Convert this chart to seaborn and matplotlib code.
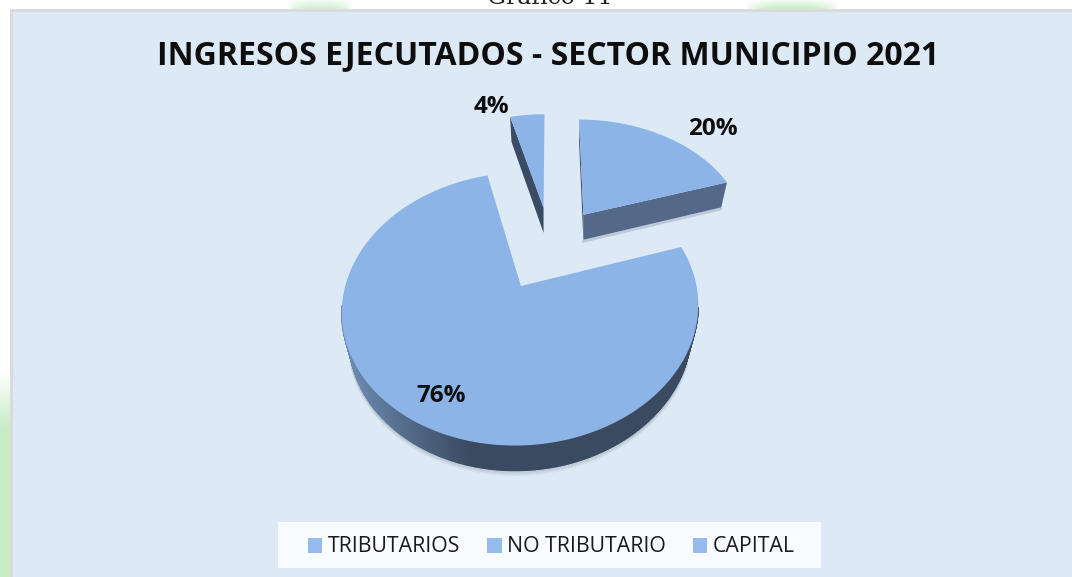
import numpy as np
import seaborn as sns
import matplotlib.pyplot as plt
from matplotlib.colors import to_rgb
from matplotlib.patches import Patch, Rectangle

categorias = ['TRIBUTARIOS', 'NO TRIBUTARIO', 'CAPITAL']
# orden de las porciones en el pastel, desde las 12 en sentido horario
etiquetas_pastel = ['20%', '76%', '4%']
valores_pastel = [20, 76, 4]
titulo = 'INGRESOS EJECUTADOS - SECTOR MUNICIPIO 2021'
titulo_grafico = 'Gráfico 11'

AZUL = '#8cb4e6'
FONDO = '#dde9f5'
VERDE = '#c6ecc5'

# perspectiva del pastel 3D (en pixeles)
CX, CY = 550.5, 247.3
A, B, K = 167, 120, 0.16
EXPLOSION = 0.35
PROF = 25
ESCALA_BASE = 0.96


def proyectar(x, y):
    den = 1 + K * y
    return CX + A * x / den, CY - B * y / den


def mezcla(t, c1, c2):
    c1, c2 = np.array(to_rgb(c1)), np.array(to_rgb(c2))
    return tuple(c1 + (c2 - c1) * t)


def mancha(ax, x0, x1, y0, y1, alfa):
    # mancha verde de la hoja de fondo, alfa es un arreglo 2D
    img = np.zeros(alfa.shape + (4,))
    img[..., :3] = to_rgb(VERDE)
    img[..., 3] = alfa
    ax.imshow(img, extent=(x0, x1, y1, y0), aspect='auto', zorder=0, interpolation='bilinear')


sns.set_theme(style='white')
plt.rcParams['font.family'] = ['Open Sans', 'DejaVu Sans']

fig = plt.figure(figsize=(10.72, 5.77), dpi=100)
ax = fig.add_axes([0, 0, 1, 1])

# restos de la hoja: manchas verdes fuera del panel
mancha(ax, 0, 10, 370, 577, np.clip(np.linspace(0, 3.5, 60), 0, 1)[:, None] * np.ones((60, 4)))
perfil = np.clip(1 - np.abs(np.linspace(-1, 1, 40)) ** 3, 0, 1)
mancha(ax, 745, 840, 0, 9, perfil[None, :] * np.linspace(0.2, 1, 6)[:, None])
mancha(ax, 285, 355, 0, 9, perfil[None, :] * np.linspace(0.2, 0.8, 6)[:, None])

ax.set_xlim(0, 1072)
ax.set_ylim(577, 0)
ax.axis('off')

ax.add_patch(Rectangle((10.5, 9.5), 1070, 575, facecolor=FONDO, edgecolor='#d9d9d9', lw=2, zorder=1))
ax.text(550, 4, titulo_grafico, family='DejaVu Serif', fontsize=17, ha='center', va='baseline',
        color='#222222', zorder=1)
ax.text(548, 56, titulo, fontsize=23, fontweight='bold', ha='center', va='center', color='#0d0d0d', zorder=5)

inicio = 0
caras = []
for v in valores_pastel:
    a0 = inicio
    a1 = inicio + v * 3.6
    inicio = a1
    medio = np.radians((a0 + a1) / 2)
    ox, oy = EXPLOSION * np.sin(medio), EXPLOSION * np.cos(medio)
    ang = np.radians(np.linspace(a0, a1, int(v * 6) + 2))
    px, py = proyectar(ox + np.sin(ang), oy + np.cos(ang))
    ax0, ay0 = proyectar(ox, oy)
    # la base se ve un poco mas angosta que la cara superior
    qx = ax0 + (px - ax0) * ESCALA_BASE
    qy = py + PROF
    caras.append((v, ang, px, py, qx, qy, ax0, ay0))

# paredes laterales primero
for v, ang, px, py, qx, qy, ax0, ay0 in caras:
    if v == 20:
        ax.fill([ax0, px[-1], qx[-1], ax0], [ay0, py[-1], qy[-1], ay0 + PROF], color='#54688a', lw=0, zorder=2)
        ax.fill([ax0, px[0], qx[0], ax0], [ay0, py[0], qy[0], ay0 + PROF], color='#3f506b', lw=0, zorder=2)
        ax.plot([ax0, qx[-1]], [ay0 + PROF + 1.5, qy[-1] + 1.5], color='#7d8ea6', alpha=0.35, lw=2, zorder=1.5)
    if v == 4:
        ax.fill([ax0, px[0], qx[0], ax0], [ay0, py[0], qy[0], ay0 + PROF], color='#3a4b63', lw=0, zorder=2)
    if v == 76:
        frente = np.cos(ang) < -0.15
        # sombra suave bajo el borde, solo en la parte delantera
        baja = np.cos(ang) < -0.35
        for d, al in [(4, 0.07), (2.5, 0.1), (1, 0.15)]:
            ax.plot(qx[baja], qy[baja] + d, color='#5b6b80', alpha=al, lw=2, zorder=1.5)
        for i in range(len(ang) - 1):
            if not frente[i]:
                continue
            t = np.clip((px[i] - 345) / 125, 0, 1)
            color = mezcla(t, '#6c8ab0', '#3a4a60')
            ax.fill([px[i], px[i + 1], qx[i + 1], qx[i]], [py[i], py[i + 1], qy[i + 1], qy[i]],
                    facecolor=color, edgecolor=color, lw=1, zorder=2)

# caras superiores
for v, ang, px, py, qx, qy, ax0, ay0 in caras:
    ax.fill(np.r_[ax0, px], np.r_[ay0, py], color=AZUL, lw=0, zorder=3)

posiciones = {'20%': (713, 129), '76%': (441, 396), '4%': (491, 107)}
for et in etiquetas_pastel:
    x, y = posiciones[et]
    ax.text(x, y, et, fontsize=17.5, fontweight='bold', ha='center', va='center', color='#0d0d0d', zorder=5)

ax.add_patch(Rectangle((278, 522), 543, 46, facecolor='#f8fbff', edgecolor='none', zorder=4))
manijas = [Patch(facecolor='#94bbec', edgecolor='none', label=c) for c in categorias]
ley = ax.legend(handles=manijas, loc='center', bbox_to_anchor=(551.5, 547), bbox_transform=ax.transData,
                ncol=3, frameon=False, fontsize=15.3, handlelength=0.66, handleheight=0.7, handletextpad=0.26,
                columnspacing=1.28, borderpad=0, borderaxespad=0, labelcolor='#1a1a1a')
ley.set_zorder(5)

fig.savefig('out.png', dpi=100)
